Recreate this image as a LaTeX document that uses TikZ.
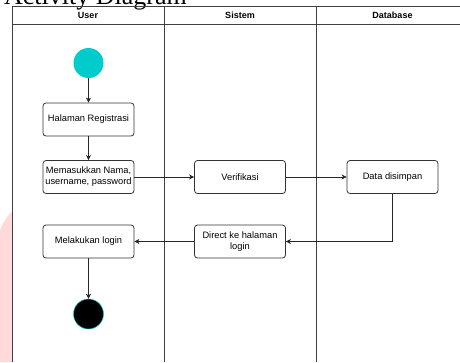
\documentclass[tikz,border=0pt]{standalone}
\usepackage{fontspec}
\setmainfont{Liberation Sans}
\newfontfamily\titlefont{Liberation Serif}
\usetikzlibrary{arrows.meta}
\definecolor{startcyan}{RGB}{0,204,204}
\definecolor{markpink}{RGB}{255,218,218}
\tikzset{
  act/.style={draw=black!80, line width=0.8pt, rounded corners=3pt, minimum width=91pt, minimum height=33pt, inner sep=1pt, align=center, font=\fontsize{9.3}{11}\selectfont},
  lane/.style={draw=black!75, line width=0.8pt},
  flow/.style={draw=black!85, line width=0.7pt, -{Stealth[length=5pt,width=5pt,inset=1.5pt]}},
  lanehead/.style={font=\fontsize{9}{10}\selectfont\bfseries}
}
\begin{document}
\begin{tikzpicture}[x=1pt,y=-1pt]
\useasboundingbox (0,0) rectangle (460,362);
\clip (0,0) rectangle (460,362);
\fill [markpink] (0,230) .. controls (3,222) and (8,215) .. (12,212) -- (12,362) -- (0,362) -- cycle;
\node (title) at (187,4) [anchor=base east, inner sep=0pt] {\titlefont\fontsize{26}{28}\selectfont Activity Diagram};
\draw [lane] (12,362) -- (12,6.5) -- (470,6.5);
\draw [lane] (12,24.5) -- (470,24.5);
\draw [lane] (164,6.5) -- (164,362);
\draw [lane] (316,6.5) -- (316,362);
\node (huser) at (88,15.5) [lanehead] {User};
\node (hsistem) at (240,15.5) [lanehead] {Sistem};
\node (hdb) at (392.5,15.5) [lanehead] {Database};
\node (start) at (88.5,63) [circle, fill=startcyan, minimum size=30pt, inner sep=0pt] {};
\node (reg) at (88.5,119.5) [act] {Halaman Registrasi};
\node (input) at (88.5,177) [act] {Memasukkan Nama,\\username, password};
\node (verif) at (240,177) [act] {Verifikasi};
\node (simpan) at (392.5,177) [act] {Data disimpan};
\node (direct) at (240,241.5) [act] {Direct ke halaman\\login};
\node (login) at (88.5,241.5) [act] {Melakukan login};
\node (end) at (88.5,314) [circle, fill=black, draw=startcyan, line width=0.5pt, minimum size=30pt, inner sep=0pt] {};
\draw [flow] (start) -- (reg);
\draw [flow] (reg) -- (input);
\draw [flow] (input) -- (verif);
\draw [flow] (verif) -- (simpan);
\draw [flow] (simpan.south) |- (direct.east);
\draw [flow] (direct) -- (login);
\draw [flow] (login) -- (end);
\end{tikzpicture}
\end{document}
